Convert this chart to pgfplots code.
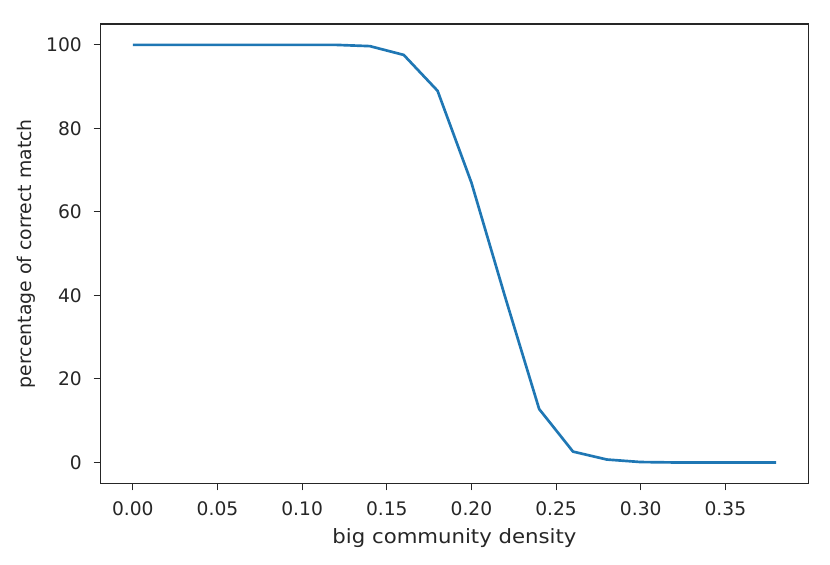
\documentclass[border=0pt]{standalone}
\usepackage{pgfplots}
\pgfplotsset{compat=1.18}
\usepackage{fontspec}
\setmainfont{DejaVu Sans}
\definecolor{mplblue}{HTML}{1F77B4}
\definecolor{axgray}{HTML}{262626}
\begin{document}
\begin{tikzpicture}
\path[use as bounding box] (-60.4pt,-48.4pt) rectangle (437.6pt,290pt);
\begin{axis}[
  scale only axis,
  width=424.6pt, height=275.6pt,
  at={(0,0)}, anchor=south west,
  xmin=-0.019, xmax=0.399,
  ymin=-5, ymax=105,
  xtick={0,0.05,0.1,0.15,0.2,0.25,0.3,0.35},
  ytick={0,20,40,60,80,100},
  xticklabel style={/pgf/number format/.cd, fixed, fixed zerofill, precision=2, /tikz/.cd, yshift=-3.4pt},
  yticklabel style={xshift=-3.6pt},
  /pgf/number format/assume math mode=true,
  tick align=outside,
  major tick length=4.2pt,
  tick style={axgray, line width=0.6pt},
  xtick pos=bottom, ytick pos=left,
  axis line style={axgray, line width=0.7pt},
  tick label style={font=\fontsize{11.2}{13}\selectfont, text=axgray},
  xlabel style={font=\fontsize{11.8}{13}\selectfont, text=axgray},
  ylabel style={font=\fontsize{11.3}{13}\selectfont, text=axgray},
  xlabel={\scalebox{1.08}[1]{big community density}},
  ylabel={percentage of correct match},
  xlabel style={at={(axis description cs:0.5,-0.119)}, anchor=center},
  ylabel style={at={(axis description cs:-0.1056,0.5)}, anchor=center},
]
\addplot[mplblue, line width=1.6pt, line join=round] coordinates {
(0.00,100) (0.02,100) (0.04,100) (0.06,100) (0.08,100) (0.10,100)
(0.12,100) (0.14,99.7) (0.16,97.6) (0.18,89.0) (0.20,67.0) (0.22,39.5)
(0.24,12.8) (0.26,2.6) (0.28,0.7) (0.30,0.1) (0.32,0) (0.34,0)
(0.36,0) (0.38,0)
};
\end{axis}
\end{tikzpicture}
\end{document}
